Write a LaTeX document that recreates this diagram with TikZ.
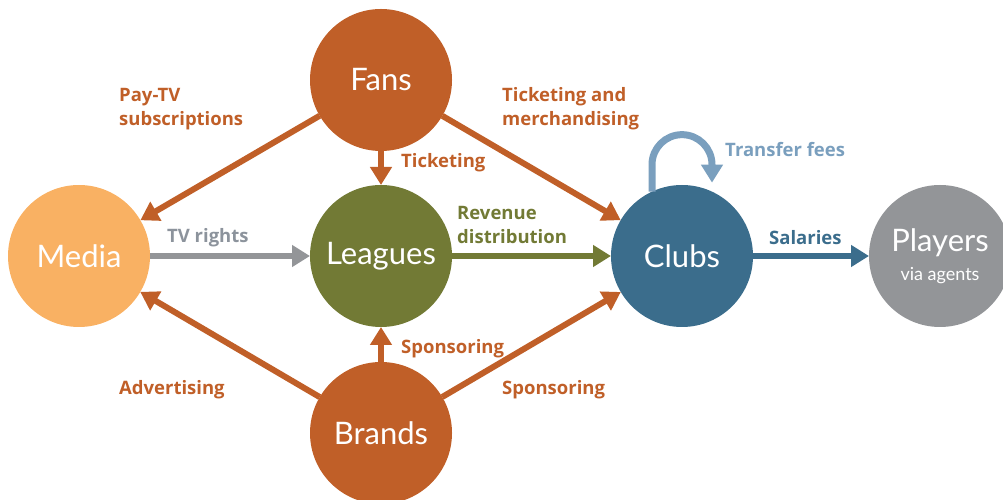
\documentclass[tikz,border=0pt]{standalone}
\usepackage{fontspec}
\setmainfont{Lato}
\newfontfamily\labelfont{Open Sans}
\usetikzlibrary{arrows.meta}

\definecolor{rust}{HTML}{C05F28}
\definecolor{peach}{HTML}{F9B163}
\definecolor{moss}{HTML}{727A35}
\definecolor{steel}{HTML}{3B6D8C}
\definecolor{ash}{HTML}{939598}
\definecolor{sky}{HTML}{7A9FBE}
\definecolor{slate}{HTML}{8C939C}

\tikzset{
  actor/.style={circle, fill=#1, minimum size=142pt, inner sep=0pt, outer sep=0pt,
    text=white, align=center, font=\fontsize{31}{34}\selectfont},
  flow/.style={draw=#1, line width=6pt, -{Triangle[length=18pt,width=21pt]}},
  lbl/.style={anchor=west, align=left, inner sep=0pt, text=#1,
    font=\labelfont\bfseries\fontsize{18.5}{24}\selectfont}
}

\begin{document}
\begin{tikzpicture}[x=1pt, y=1pt]
  \useasboundingbox (0,0) rectangle (1003,500);

  % circles
  \node[actor=rust]  (fans)    at (381,420) {Fans};
  \node[actor=peach] (media)   at (79,244)  {Media};
  \node[actor=moss]  (leagues) at (381,244) {Leagues};
  \node[actor=steel] (clubs)   at (682,244) {Clubs};
  \node[actor=ash]   (players) at (940,244)
    {Players\\[-5pt]{\fontsize{18}{20}\selectfont via agents}};
  \node[actor=rust]  (brands)  at (381,67)  {Brands};

  % money flows
  \draw[flow=rust]  (fans) -- (media);
  \draw[flow=rust]  (fans) -- (leagues);
  \draw[flow=rust]  (fans) -- (clubs);
  \draw[flow=ash]   (media) -- (leagues);
  \draw[flow=moss]  (leagues) -- (clubs);
  \draw[flow=steel] (clubs) -- (players);
  \draw[flow=rust]  (brands) -- (media);
  \draw[flow=rust]  (brands) -- (leagues);
  \draw[flow=rust]  (brands) -- (clubs);
  \draw[draw=sky, line width=7pt, -{Triangle[length=18pt,width=21pt]}]
    (clubs.115) -- ++(0,27) arc[start angle=180, end angle=0, radius=30] -- ++(0,-18);

  % labels
  \node[lbl=rust]  (paytv)   at (119,391) {Pay-TV\\subscriptions};
  \node[lbl=rust]  (tick)    at (401,337) {Ticketing};
  \node[lbl=rust]  (merch)   at (502,391) {Ticketing and\\merchandising};
  \node[lbl=sky]   (fees)    at (725,350) {Transfer fees};
  \node[lbl=slate] (tvr)     at (167,262) {TV rights};
  \node[lbl=moss]  (revenue) at (457,275) {Revenue\\distribution};
  \node[lbl=steel] (salary)  at (769,262) {Salaries};
  \node[lbl=rust]  (sponsL)  at (401,151) {Sponsoring};
  \node[lbl=rust]  (advert)  at (119,110) {Advertising};
  \node[lbl=rust]  (sponsC)  at (502,110) {Sponsoring};
\end{tikzpicture}
\end{document}
